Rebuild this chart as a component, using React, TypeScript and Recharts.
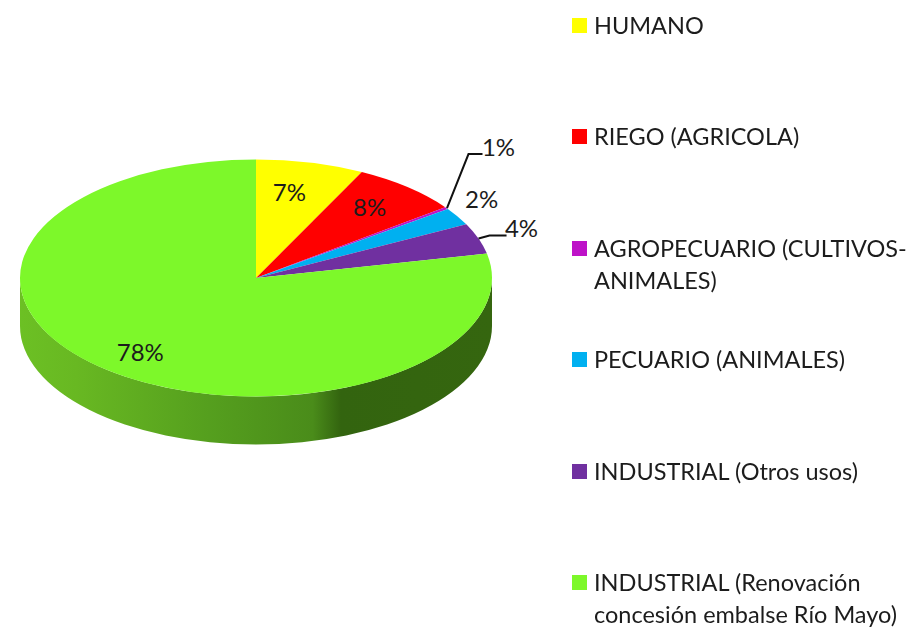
import React from "react";
import { PieChart, Pie, Cell, Legend } from "recharts";

const categories = [
  "HUMANO",
  "RIEGO (AGRICOLA)",
  "AGROPECUARIO (CULTIVOS-ANIMALES)",
  "PECUARIO (ANIMALES)",
  "INDUSTRIAL (Otros usos)",
  "INDUSTRIAL (Renovación concesión embalse Río Mayo)",
];
const values = [7.4, 7.4, 0.3, 2.4, 4.2, 78.3];
const percentLabels = ["7%", "8%", "1%", "2%", "4%", "78%"];
const colors = ["#FFFF00", "#FF0000", "#BE12C8", "#00B0F0", "#7030A0", "#7DF82A"];

const data = categories.map((name, i) => ({ name, value: values[i] }));

const RX = 236;
const RY = 118.5;
const DEPTH = 48;
const CX = 256;
const CY = 278;
const FONT = "Lato, 'Open Sans', sans-serif";
const TEXT = "#1c1c1c";
const RAD = Math.PI / 180;

// placement of each percentage label relative to its slice's point on the rim
const labelPlacement = [
  { dx: -21, dy: 29 },
  { dx: -38, dy: 19 },
  { dx: 52, dy: -62 },
  { dx: 24, dy: -18 },
  { dx: 43, dy: -11 },
  { dx: 33, dy: -19 },
];
// leader lines, relative to the same rim point
const leaders: Record<number, number[][]> = {
  2: [[0.5, 0], [22, -54], [36, -54]],
  4: [[0, 0], [11, -3], [28, -3]],
};

function Wedge(props: any) {
  const { cx, cy, startAngle, endAngle, fill, index } = props;
  const px = (a: number) => cx + RX * Math.cos(a * RAD);
  const py = (a: number) => cy - RY * Math.sin(a * RAD);
  const large = Math.abs(endAngle - startAngle) > 180 ? 1 : 0;
  const top = `M${cx},${cy}L${px(startAngle)},${py(startAngle)}A${RX},${RY} 0 ${large} 1 ${px(endAngle)},${py(endAngle)}Z`;
  const isLast = index === values.length - 1;
  const wall = `M${cx - RX},${cy}A${RX},${RY} 0 0 0 ${cx + RX},${cy}L${cx + RX},${cy + DEPTH}A${RX},${RY} 0 0 1 ${cx - RX},${cy + DEPTH}Z`;
  return (
    <g>
      {isLast && (
        <>
          <defs>
            <linearGradient id="wallShade" gradientUnits="userSpaceOnUse" x1={cx - RX} x2={cx + RX} y1={0} y2={0}>
              <stop offset="0" stopColor="#6CC024" />
              <stop offset="0.12" stopColor="#68B822" />
              <stop offset="0.4" stopColor="#559F1E" />
              <stop offset="0.62" stopColor="#4A8C1A" />
              <stop offset="0.68" stopColor="#33640F" />
              <stop offset="1" stopColor="#35660F" />
            </linearGradient>
          </defs>
          <path d={wall} fill="url(#wallShade)" />
        </>
      )}
      <path d={top} fill={fill} />
    </g>
  );
}

function PercentLabel(props: any) {
  const { cx, cy, midAngle, index } = props;
  const ex = cx + RX * Math.cos(midAngle * RAD);
  const ey = cy - RY * Math.sin(midAngle * RAD);
  const p = labelPlacement[index];
  const leader = leaders[index];
  return (
    <g>
      {leader && (
        <polyline
          points={leader.map(([a, b]) => `${ex + a},${ey + b}`).join(" ")}
          fill="none"
          stroke="#111"
          strokeWidth={2}
        />
      )}
      <text
        x={ex + p.dx}
        y={ey + p.dy}
        textAnchor="middle"
        dominantBaseline="central"
        fontFamily={FONT}
        fontSize={24}
        fill={TEXT}
      >
        {percentLabels[index]}
      </text>
    </g>
  );
}

function LegendList({ payload }: any) {
  return (
    <div style={{ position: "relative", width: 348, height: 627 }}>
      {(payload || []).map((item: any, i: number) => (
        <div key={i} style={{ position: "absolute", left: 0, top: 9 + i * 111.4, display: "flex", alignItems: "flex-start" }}>
          <span style={{ width: 15, height: 15, marginTop: 9, marginRight: 7, flex: "none", background: item.color }} />
          <span style={{ width: 330, fontFamily: FONT, fontSize: 23.5, lineHeight: "32px", color: TEXT, whiteSpace: "normal" }}>
            {item.value}
          </span>
        </div>
      ))}
    </div>
  );
}

export default function App() {
  return (
    <div style={{ position: "fixed", left: 0, top: 0, width: 920, height: 627, background: "#fff", filter: "blur(0.4px)" }}>
      <PieChart width={920} height={627} margin={{ top: 0, right: 0, bottom: 0, left: 0 }}>
        <Pie
          data={data}
          dataKey="value"
          nameKey="name"
          cx={CX}
          cy={CY}
          outerRadius={RX}
          startAngle={90}
          endAngle={-270}
          stroke="none"
          isAnimationActive={false}
          shape={Wedge}
          label={PercentLabel}
          labelLine={false}
        >
          {categories.map((c, i) => (
            <Cell key={c} fill={colors[i]} />
          ))}
        </Pie>
        <Legend
          content={LegendList}
          layout="vertical"
          itemSorter={null}
          wrapperStyle={{ position: "absolute", left: 572, top: 0, width: 348, height: 627 }}
        />
      </PieChart>
    </div>
  );
}
